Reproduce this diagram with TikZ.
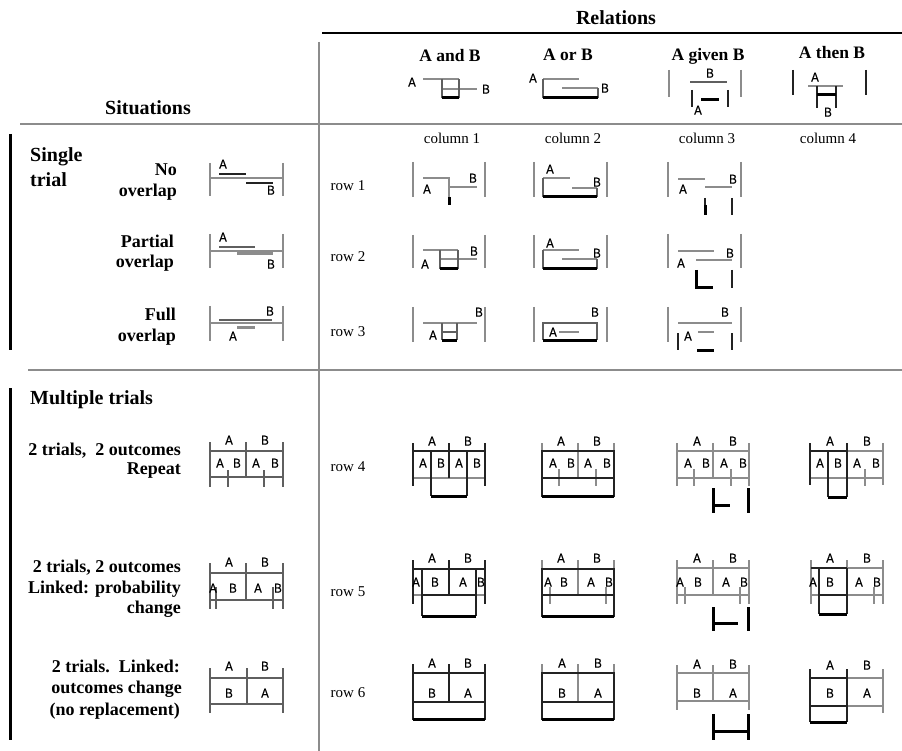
\documentclass[tikz,border=0pt]{standalone}
\usepackage{fontspec}
\setmainfont{Liberation Serif}
\newfontfamily\labf[FakeStretch=0.88,FakeBold=0.6]{Liberation Sans}
\definecolor{gc}{RGB}{140,140,140}
\definecolor{mc}{RGB}{95,95,95}
\definecolor{dc}{RGB}{35,35,35}
\newcounter{lbc}
\newcommand\lb[3]{\stepcounter{lbc}\node[lab] (lb\thelbc) at (#1,#2) {#3};}
\begin{document}
\begin{tikzpicture}[x=1pt,y=-1pt,
  gl/.style={draw=gc,line width=1.4pt},
  ml/.style={draw=mc,line width=1.3pt},
  kl/.style={draw=dc,line width=1.3pt},
  kk/.style={draw=dc,line width=2pt},
  tk/.style={draw=black,line width=3pt},
  gtk/.style={draw=gc,line width=3pt},
  lab/.style={font=\labf\fontsize{13}{13}\selectfont,inner sep=0pt,text height=9.3pt,text depth=0pt},
  hd/.style={font=\fontsize{20}{24}\selectfont\bfseries,inner sep=0pt,anchor=base west},
  sub/.style={font=\fontsize{18}{20}\selectfont\bfseries,inner sep=0pt,anchor=base east},
  rel/.style={font=\fontsize{17.5}{20}\selectfont\bfseries,inner sep=0pt,anchor=base},
  coll/.style={font=\fontsize{15}{16}\selectfont,inner sep=0pt,anchor=base},
]
\fill[white] (0,0) rectangle (902,751);
\useasboundingbox (0,0) rectangle (902,751);

% frame lines
\draw[line width=2.2pt] (322,33) -- (902,33);
\draw[gl] (319,42) -- (319,751);
\draw[gl] (20,124) -- (902,124);
\draw[gl] (28,370) -- (902,370);
\draw[line width=3pt] (10,134) -- (10,350);
\draw[line width=3pt] (10,388) -- (10,740);

% headings
\node[hd,anchor=base] (relations) at (616,25) {Relations};
\node[hd,anchor=base] (situations) at (148,115) {Situations};
\node[hd] (single) at (30,161.5) {Single};
\node[hd] (trial) at (30,186.5) {trial};
\node[hd] (multiple) at (30,404.5) {Multiple trials};

\node[sub] (s1a) at (177,176) {No};
\node[sub] (s1b) at (177,197) {overlap};
\node[sub] (s2a) at (174,248) {Partial};
\node[sub] (s2b) at (174,268) {overlap};
\node[sub] (s3a) at (176,320) {Full};
\node[sub] (s3b) at (176,341) {overlap};
\node[sub] (m1a) at (181,455) {2 trials,\ \ 2 outcomes};
\node[sub] (m1b) at (181,474) {Repeat};
\node[sub] (m2a) at (181,572) {2 trials, 2 outcomes};
\node[sub] (m2b) at (181,593) {Linked: probability};
\node[sub] (m2c) at (181,613) {change};
\node[sub] (m3a) at (180,672) {2 trials.\ \ Linked:};
\node[sub] (m3b) at (182,693) {outcomes change};
\node[sub] (m3c) at (180,715) {(no replacement)};

\node[rel] (r1) at (450,61.5) {A and B};
\node[rel] (r2) at (568,60.5) {A or B};
\node[rel] (r3) at (708,60.5) {A given B};
\node[rel] (r4) at (832,58.5) {A then B};

\node[coll] (c1) at (452,144) {column 1};
\node[coll] (c2) at (573,144) {column 2};
\node[coll] (c3) at (707,144) {column 3};
\node[coll] (c4) at (828,144) {column 4};
\node[coll] (row1) at (348,191) {row 1};
\node[coll] (row2) at (348,261.5) {row 2};
\node[coll] (row3) at (348,336.5) {row 3};
\node[coll] (row4) at (348,471.5) {row 4};
\node[coll] (row5) at (348,596.5) {row 5};
\node[coll] (row6) at (348,697.5) {row 6};

% ---------- header icons
% A and B
\lb{412}{82}{A}
\draw[gl] (423,79) -- (459,79);
\draw[gl] (442,89) -- (477,89);
\draw[ml] (442,79) -- (442,98) (459,79) -- (459,98);
\draw[tk] (442,98) -- (459,98);
\lb{486}{89}{B}
% A or B
\lb{533}{78}{A}
\draw[gl] (543,79) -- (579,79);
\draw[gl] (562,88) -- (598,88);
\draw[ml] (543,79) -- (543,98) (598,88) -- (598,98);
\draw[tk] (543,98) -- (598,98);
\lb{605}{88}{B}
% A given B
\draw[gl] (669,70) -- (669,97) (741,70) -- (741,97);
\lb{710}{73}{B}
\draw[ml] (690,82) -- (727,82);
\draw[kk] (692,90) -- (692,107) (728,90) -- (728,107);
\draw[tk] (701,100) -- (719,100);
\lb{698}{110}{A}
% A then B
\draw[kk] (793,70) -- (793,95) (866,70) -- (866,95);
\lb{815}{77}{A}
\draw[gl] (808,86) -- (843,86);
\draw[kk] (817,86) -- (817,108) (836,86) -- (836,108);
\draw[tk] (817,95) -- (836,95);
\lb{828}{112}{B}

% ---------- situation icons (single trial)
\draw[gl] (210,163) -- (210,196) (283,163) -- (283,196);
\draw[gl] (210,178) -- (283,178);
\draw[kl] (219,174) -- (246,174);
\draw[kl] (246,183) -- (273,183);
\lb{223}{164}{A} \lb{271}{190}{B}

\draw[gl] (210,234) -- (210,268) (283,234) -- (283,268);
\draw[gl] (210,251) -- (283,251);
\draw[ml] (219,247) -- (255,247);
\draw[gtk] (237,254) -- (273,254);
\lb{223}{237}{A} \lb{271}{264}{B}

\draw[gl] (210,306) -- (210,341) (283,306) -- (283,341);
\draw[gl] (210,323) -- (283,323);
\draw[ml] (219,320) -- (272,320);
\draw[gtk] (237,327) -- (255,327);
\lb{270}{311}{B} \lb{233}{336}{A}

% ---------- column 1, rows 1-3
\draw[gl] (413,162) -- (413,197) (485,162) -- (485,197);
\draw[gl] (423,178) -- (449,178) -- (449,197);
\draw[gl] (449,187) -- (477,187);
\draw[tk] (449,197) -- (449,205);
\lb{427}{189}{A} \lb{473}{178}{B}

\draw[gl] (413,235) -- (413,268) (485,235) -- (485,268);
\draw[gl] (423,250) -- (458,250);
\draw[gl] (440,259) -- (477,259);
\draw[ml] (440,250) -- (440,269) (458,250) -- (458,269);
\draw[tk] (440,269) -- (458,269);
\lb{425}{264}{A} \lb{474}{251}{B}

\draw[gl] (413,307) -- (413,342) (485,307) -- (485,342);
\draw[gl] (423,323) -- (477,323);
\draw[ml] (442,323) -- (442,340) (457,323) -- (457,340) (442,332) -- (457,332);
\draw[tk] (442,340) -- (457,340);
\lb{433}{335}{A} \lb{479}{312}{B}

% ---------- column 2, rows 1-3
\draw[gl] (534,162) -- (534,197) (607,162) -- (607,197);
\draw[gl] (543,178) -- (570,178);
\draw[gl] (572,188) -- (597,188);
\draw[ml] (543,178) -- (543,197) (597,188) -- (597,197);
\draw[tk] (543,197) -- (597,197);
\lb{550}{169}{A} \lb{597}{182}{B}

\draw[gl] (534,235) -- (534,268) (607,235) -- (607,268);
\draw[gl] (543,250) -- (579,250);
\draw[gl] (562,259) -- (597,259);
\draw[ml] (543,250) -- (543,269) (597,259) -- (597,269);
\draw[tk] (543,269) -- (597,269);
\lb{550}{243}{A} \lb{597}{253}{B}

\draw[gl] (534,307) -- (534,342) (607,307) -- (607,342);
\draw[ml] (543,340) -- (543,323) -- (597,323) -- (597,340);
\draw[gl] (559,332) -- (579,332);
\draw[tk] (543,340) -- (597,340);
\lb{553}{332}{A} \lb{595}{312}{B}

% ---------- column 3, rows 1-3
\draw[gl] (668,162) -- (668,197) (741,162) -- (741,197);
\draw[gl] (678,179) -- (705,179);
\draw[gl] (705,187) -- (732,187);
\draw[kl] (705,198) -- (705,207);
\draw[tk] (705,205) -- (705,215);
\draw[kk] (732,198) -- (732,215);
\lb{683}{189}{A} \lb{733}{179}{B}

\draw[gl] (668,234) -- (668,268) (741,234) -- (741,268);
\draw[gl] (678,251) -- (714,251);
\draw[gl] (696,260) -- (732,260);
\draw[tk] (696,270) -- (696,288) -- (713,288);
\draw[kk] (732,270) -- (732,288);
\lb{681}{263}{A} \lb{730}{253}{B}

\draw[gl] (668,307) -- (668,342) (741,307) -- (741,342);
\draw[gl] (678,323) -- (732,323);
\draw[gl] (698,332) -- (714,332);
\draw[kk] (678,333) -- (678,350) (732,333) -- (732,350);
\draw[tk] (697,350) -- (714,350);
\lb{688}{336}{A} \lb{725}{312}{B}

% ---------- situation icons (multiple trials)
\draw[ml] (210,442) -- (210,487) (283,442) -- (283,487) (246,442) -- (246,477);
\draw[ml] (210,451) -- (283,451) (210,477) -- (283,477);
\draw[ml] (228,470) -- (228,487) (264,470) -- (264,487);
\lb{229}{440}{A} \lb{265}{440}{B}
\lb{220}{463}{A} \lb{237}{463}{B} \lb{256}{463}{A} \lb{275}{463}{B}

\draw[ml] (210,563) -- (210,609) (283,563) -- (283,609) (246,563) -- (246,600);
\draw[ml] (210,573) -- (283,573) (210,600) -- (283,600);
\draw[ml] (216,587) -- (216,609) (273,587) -- (273,609);
\lb{229}{562}{A} \lb{265}{562}{B}
\lb{213}{588}{A} \lb{233}{588}{B} \lb{258}{588}{A} \lb{278}{588}{B}

\draw[ml] (210,668) -- (210,713) (283,668) -- (283,713) (247,668) -- (247,704);
\draw[ml] (210,678) -- (283,678) (210,704) -- (283,704);
\lb{229}{666}{A} \lb{265}{666}{B}
\lb{229}{693}{B} \lb{265}{693}{A}

% ---------- row 4
% col 1
\draw[gl] (413,478) -- (485,478);
\draw[kl] (413,443) -- (413,486) (485,443) -- (485,486) (449,443) -- (449,478);
\draw[kk] (413,451) -- (485,451);
\draw[kl] (431,451) -- (431,496) (467,451) -- (467,496);
\draw[tk] (431,496) -- (467,496);
\lb{432}{441}{A} \lb{468}{441}{B}
\lb{423}{463}{A} \lb{441}{463}{B} \lb{459}{463}{A} \lb{477}{463}{B}
% col 2
\draw[gl] (542,443) -- (542,496) (614,443) -- (614,496) (578,443) -- (578,478);
\draw[gl] (559,469) -- (559,486) (596,469) -- (596,486);
\draw[kl] (542,451) rectangle (614,496);
\draw[kl] (542,478) -- (614,478);
\draw[tk] (542,496) -- (614,496);
\lb{561}{441}{A} \lb{597}{441}{B}
\lb{553}{463}{A} \lb{571}{463}{B} \lb{588}{463}{A} \lb{607}{463}{B}
% col 3
\draw[gl] (677,443) -- (677,486) (749,443) -- (749,486) (713,443) -- (713,478);
\draw[gl] (677,451) -- (749,451) (677,478) -- (749,478);
\draw[gl] (694,469) -- (694,486) (731,469) -- (731,486);
\draw[tk] (713,488) -- (713,513) (713,505) -- (730,505) (748,488) -- (748,513);
\lb{697}{441}{A} \lb{733}{441}{B}
\lb{688}{463}{A} \lb{706}{463}{B} \lb{724}{463}{A} \lb{743}{463}{B}
% col 4
\draw[gl] (847,451) -- (883,451) (810,478) -- (883,478);
\draw[gl] (883,443) -- (883,485) (865,469) -- (865,486);
\draw[kl] (810,443) -- (810,485) (847,443) -- (847,497) (828,451) -- (828,497);
\draw[kk] (810,451) -- (847,451);
\draw[tk] (828,497) -- (847,497);
\lb{830}{441}{A} \lb{867}{441}{B}
\lb{820}{463}{A} \lb{838}{463}{B} \lb{857}{463}{A} \lb{876}{463}{B}

% ---------- row 5
% col 1
\draw[gl] (413,595) -- (485,595);
\draw[kl] (413,560) -- (413,604) (485,560) -- (485,604) (449,560) -- (449,595);
\draw[kk] (413,569) -- (485,569);
\draw[kl] (422,569) -- (422,616) (476,569) -- (476,616) (422,595) -- (476,595);
\draw[tk] (422,616) -- (476,616);
\lb{432}{558}{A} \lb{468}{558}{B}
\lb{416}{582}{A} \lb{435}{582}{B} \lb{463}{582}{A} \lb{481}{582}{B}
% col 2
\draw[gl] (542,560) -- (542,616) (614,560) -- (614,616) (578,560) -- (578,595);
\draw[gl] (550,587) -- (550,604) (606,587) -- (606,604);
\draw[kl] (542,569) rectangle (614,616);
\draw[kl] (542,595) -- (614,595);
\draw[tk] (542,616) -- (614,616);
\lb{561}{558}{A} \lb{597}{558}{B}
\lb{548}{582}{A} \lb{564}{582}{B} \lb{591}{582}{A} \lb{609}{582}{B}
% col 3
\draw[gl] (677,560) -- (677,604) (749,560) -- (749,604) (713,560) -- (713,595);
\draw[gl] (677,568) -- (749,568) (677,595) -- (749,595);
\draw[gl] (685,587) -- (685,604) (740,587) -- (740,604);
\draw[tk] (713,607) -- (713,631) (713,623) -- (738,623) (748,607) -- (748,631);
\lb{697}{558}{A} \lb{733}{558}{B}
\lb{680}{582}{A} \lb{698}{582}{B} \lb{726}{582}{A} \lb{744}{582}{B}
% col 4
\draw[gl] (847,568) -- (883,568) (811,595) -- (883,595);
\draw[gl] (811,560) -- (811,604) (883,560) -- (883,604) (847,560) -- (847,568);
\draw[gl] (874,587) -- (874,604);
\draw[kk] (811,568) -- (847,568);
\draw[kl] (819,568) -- (819,614) (847,568) -- (847,614) (819,595) -- (847,595);
\draw[tk] (819,614) -- (847,614);
\lb{830}{558}{A} \lb{867}{558}{B}
\lb{813}{582}{A} \lb{830}{582}{B} \lb{859}{582}{A} \lb{877}{582}{B}

% ---------- row 6
% col 1
\draw[kl] (413,664) -- (413,720) (485,664) -- (485,720) (449,664) -- (449,702);
\draw[kk] (413,673) -- (485,673);
\draw[kk] (413,702) -- (485,702);
\draw[tk] (413,719) -- (485,719);
\lb{432}{663}{A} \lb{468}{663}{B}
\lb{432}{693}{B} \lb{468}{693}{A}
% col 2
\draw[gl] (542,664) -- (542,719) (614,664) -- (614,719) (578,664) -- (578,702);
\draw[kl] (542,673) rectangle (614,719);
\draw[kk] (542,702) -- (614,702);
\draw[tk] (542,719) -- (614,719);
\lb{562}{663}{A} \lb{598}{663}{B}
\lb{562}{693}{B} \lb{598}{693}{A}
% col 3
\draw[gl] (677,665) -- (677,710) (749,665) -- (749,710) (713,665) -- (713,701);
\draw[gl] (677,673) -- (749,673) (677,701) -- (749,701);
\draw[tk] (713,714) -- (713,740) (748,714) -- (748,740) (713,731) -- (748,731);
\lb{697}{664}{A} \lb{733}{664}{B}
\lb{697}{693}{B} \lb{733}{693}{A}
% col 4
\draw[gl] (883,669) -- (883,713) (847,678) -- (883,678) (847,706) -- (883,706);
\draw[kl] (810,669) -- (810,722) (847,669) -- (847,722);
\draw[kk] (810,678) -- (847,678) (810,706) -- (847,706);
\draw[tk] (810,722) -- (847,722);
\lb{830}{665}{A} \lb{867}{665}{B}
\lb{830}{693}{B} \lb{867}{693}{A}
\end{tikzpicture}
\end{document}
